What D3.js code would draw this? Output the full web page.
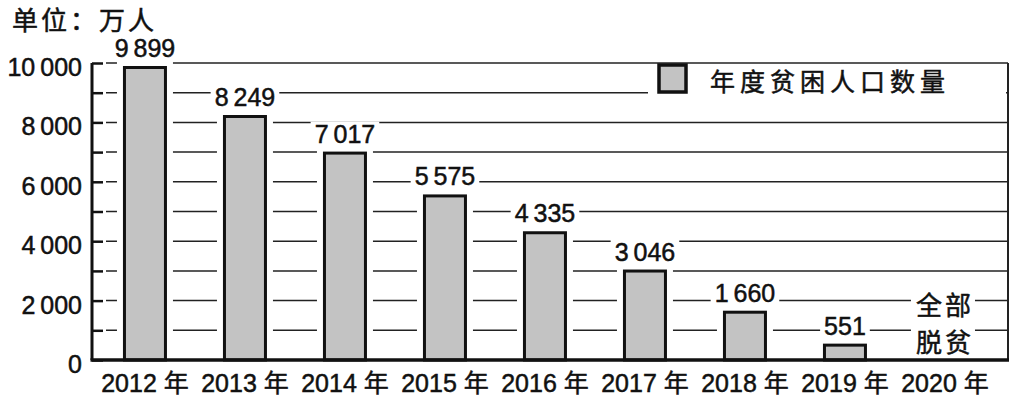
<!DOCTYPE html>
<html>
<head>
<meta charset="utf-8">
<script src="https://cdn.jsdelivr.net/npm/d3@7"></script>
<style>
  html, body { margin: 0; padding: 0; background: #fff; }
  svg { display: block; }
  text { fill: #111; stroke: #111; stroke-width: 0.5px; }
</style>
</head>
<body>
<div id="chart"></div>
<script>
const width = 1015;
const height = 402;

const years = ["2012", "2013", "2014", "2015", "2016", "2017", "2018", "2019", "2020"];
const poorPopulation = [9899, 8249, 7017, 5575, 4335, 3046, 1660, 551, null];
const yTicks = [0, 1000, 2000, 3000, 4000, 5000, 6000, 7000, 8000, 9000, 10000];
const unitLabel = "单位：万人";
const legendLabel = "年度贫困人口数量";
const doneLabel = ["全部", "脱贫"];

const data = years.map((y, i) => ({ year: y, value: poorPopulation[i] }));

const numFont = "'Liberation Sans', 'Noto Sans CJK SC', sans-serif";
const cjkFont = "'Noto Sans CJK SC', sans-serif";

const plotLeft = 92, plotRight = 1008, plotTop = 63, plotBottom = 360;

const svg = d3.select("#chart")
  .append("svg")
  .attr("width", width)
  .attr("height", height)
  .attr("viewBox", [0, 0, width, height]);

const x = d3.scaleBand()
  .domain(years)
  .range([plotLeft, plotRight])
  .paddingInner(0.56)
  .paddingOuter(0.36)
  .align(0.43);

const y = d3.scaleLinear()
  .domain([0, 10000])
  .range([plotBottom, plotTop]);

// thousands with a thin gap, like "9 899"
const fmt = v => d3.format(",")(v).replace(/,/g, "\u2009");

// gridlines behind everything
svg.append("g")
  .selectAll("line")
  .data(yTicks.filter(d => d > 0))
  .join("line")
  .attr("x1", plotLeft + 14)
  .attr("x2", plotRight)
  .attr("y1", d => y(d))
  .attr("y2", d => y(d))
  .attr("stroke", "#222")
  .attr("stroke-width", 1.5);

const bars = data.filter(d => d.value != null);

// white halos that break the gridlines around bars
svg.append("g")
  .selectAll("rect")
  .data(bars)
  .join("rect")
  .attr("x", d => x(d.year) - 6)
  .attr("width", x.bandwidth() + 12)
  .attr("y", d => y(d.value) - 4)
  .attr("height", d => plotBottom - y(d.value) + 4)
  .attr("fill", "#fff");

// legend background
svg.append("rect")
  .attr("x", 648)
  .attr("y", plotTop + 3)
  .attr("width", plotRight - 650)
  .attr("height", 46)
  .attr("fill", "#fff");

// value labels with white backing
const labelG = svg.append("g");
const labels = labelG.selectAll("text")
  .data(bars)
  .join("text")
  .attr("x", d => x(d.year) + x.bandwidth() / 2)
  .attr("y", d => y(d.value) - 9)
  .attr("text-anchor", "middle")
  .attr("font-family", numFont)
  .attr("font-size", 25)
  .text(d => fmt(d.value));

labels.each(function() {
  const b = this.getBBox();
  labelG.insert("rect", "text")
    .attr("x", b.x - 4)
    .attr("y", b.y + 2)
    .attr("width", b.width + 8)
    .attr("height", b.height - 4)
    .attr("fill", "#fff")
    .attr("stroke", "none");
});

// 2020 note
const noteG = svg.append("g");
const notes = noteG.selectAll("text")
  .data(doneLabel)
  .join("text")
  .attr("x", x("2020") + x.bandwidth() / 2)
  .attr("y", (d, i) => 315 + i * 37)
  .attr("text-anchor", "middle")
  .attr("font-family", cjkFont)
  .attr("font-size", 26)
  .attr("letter-spacing", 3)
  .text(d => d);

notes.each(function() {
  const b = this.getBBox();
  noteG.insert("rect", "text")
    .attr("x", b.x - 5)
    .attr("y", b.y + 3)
    .attr("width", b.width + 6)
    .attr("height", b.height - 6)
    .attr("fill", "#fff");
});

// bars
svg.append("g")
  .selectAll("rect")
  .data(bars)
  .join("rect")
  .attr("x", d => x(d.year) + 1.5)
  .attr("width", x.bandwidth() - 3)
  .attr("y", d => y(d.value) + 1.5)
  .attr("height", d => plotBottom - y(d.value) - 1.5)
  .attr("fill", "#c3c3c3")
  .attr("stroke", "#111")
  .attr("stroke-width", 3);

// right frame
svg.append("line")
  .attr("x1", plotRight)
  .attr("x2", plotRight)
  .attr("y1", plotTop)
  .attr("y2", plotBottom)
  .attr("stroke", "#222")
  .attr("stroke-width", 2);

// y axis
const yAxis = svg.append("g")
  .attr("transform", `translate(${plotLeft},0)`)
  .call(d3.axisLeft(y)
    .tickValues(yTicks)
    .tickSize(-11)
    .tickPadding(10)
    .tickFormat(d => d % 2000 === 0 ? fmt(d) : ""));

yAxis.select(".domain")
  .attr("d", `M0,${plotTop}V${plotBottom}`)
  .attr("stroke", "#111")
  .attr("stroke-width", 3);
yAxis.selectAll(".tick line")
  .attr("stroke", "#111")
  .attr("stroke-width", 2.5);
yAxis.selectAll(".tick text")
  .attr("font-family", numFont)
  .attr("font-size", 25)
  .attr("fill", "#111")
  .attr("dy", "0.5em");

// x axis
const xAxis = svg.append("g")
  .attr("transform", `translate(0,${plotBottom})`)
  .call(d3.axisBottom(x)
    .tickSize(0)
    .tickPadding(14)
    .tickFormat(d => d + " 年"));

xAxis.select(".domain")
  .attr("d", `M${plotLeft - 1.5},0H${plotRight + 1}`)
  .attr("stroke", "#111")
  .attr("stroke-width", 3.5);
xAxis.selectAll(".tick text")
  .attr("font-family", numFont)
  .attr("font-size", 25)
  .attr("fill", "#111");

// legend
svg.append("rect")
  .attr("x", 659)
  .attr("y", 65)
  .attr("width", 27)
  .attr("height", 27)
  .attr("fill", "#c3c3c3")
  .attr("stroke", "#111")
  .attr("stroke-width", 3.5);

svg.append("text")
  .attr("x", 710)
  .attr("y", 91)
  .attr("font-family", cjkFont)
  .attr("font-size", 25)
  .attr("letter-spacing", 5)
  .text(legendLabel);

// unit
svg.append("text")
  .attr("x", 12)
  .attr("y", 30)
  .attr("font-family", cjkFont)
  .attr("font-size", 26)
  .attr("letter-spacing", 3)
  .text(unitLabel);
</script>
</body>
</html>
